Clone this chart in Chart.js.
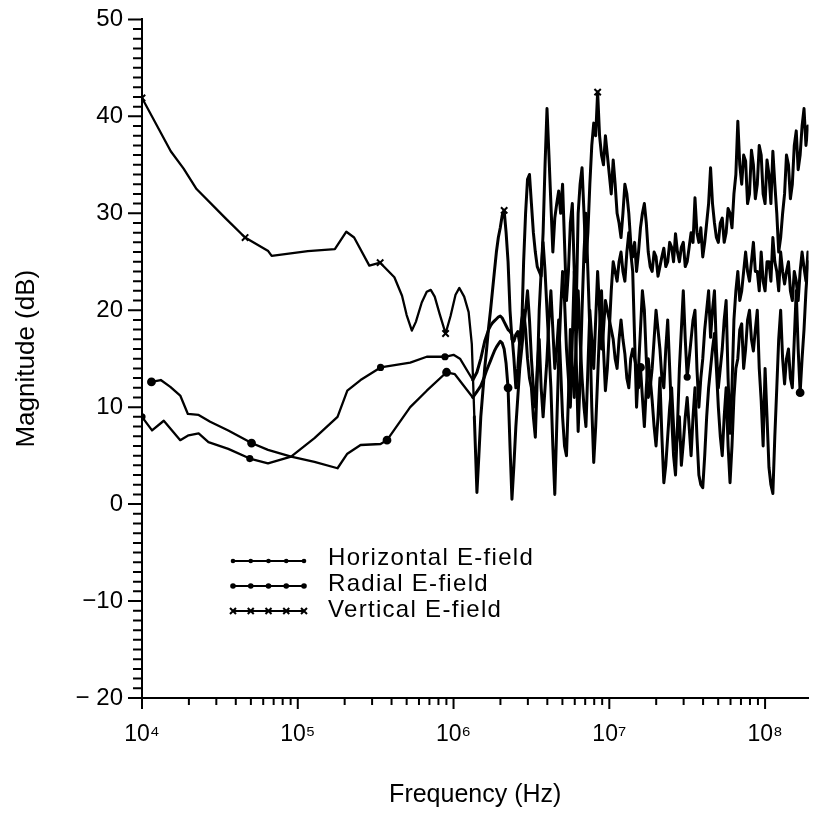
<!DOCTYPE html>
<html><head><meta charset="utf-8">
<script src="https://cdn.jsdelivr.net/npm/chart.js@4/dist/chart.umd.min.js"></script>
<style>html,body{margin:0;padding:0;background:#fff}</style>
</head><body>
<canvas id="c" width="815" height="813"></canvas>
<script>
const FONT = "'Liberation Sans', Arial, Helvetica, sans-serif";

const seriesNames = ['Horizontal E-field', 'Radial E-field', 'Vertical E-field'];
const yTickValues = [-20, -10, 0, 10, 20, 30, 40, 50];
const yTickLabels = ['\u2212 20', '\u221210', '0', '10', '20', '30', '40', '50'];
const xDecades = [1e4, 1e5, 1e6, 1e7, 1e8];
const xDecadeLabels = ['10\u2074', '10\u2075', '10\u2076', '10\u2077', '10\u2078'];

// ---- low-frequency (smooth) parts ----
const horizFreqLow = [1.00e4, 1.16e4, 1.38e4, 1.76e4, 1.99e4, 2.31e4, 2.67e4, 3.58e4, 4.92e4, 6.44e4, 9.06e4,
  1.28e5, 1.80e5, 2.08e5, 2.53e5, 3.40e5, 5.27e5, 6.73e5, 8.81e5, 1.00e6, 1.10e6, 1.33e6];
const horizDbLow = [9.0, 7.6, 8.6, 6.6, 7.1, 7.3, 6.4, 5.7, 4.7, 4.2, 4.9,
  6.8, 9.0, 11.7, 12.8, 14.1, 14.6, 15.2, 15.2, 15.4, 15.0, 12.8];

const radialFreqLow = [1.15e4, 1.32e4, 1.52e4, 1.76e4, 1.97e4, 2.31e4, 2.74e4, 3.58e4, 5.05e4, 6.44e4, 9.06e4,
  1.28e5, 1.80e5, 2.08e5, 2.53e5, 3.40e5, 3.74e5, 5.27e5, 6.73e5, 9.02e5, 1.02e6, 1.33e6];
const radialDbLow = [12.6, 12.8, 12.1, 11.2, 9.3, 9.2, 8.5, 7.6, 6.3, 5.6, 4.9,
  4.35, 3.7, 5.2, 6.1, 6.2, 6.6, 10.0, 11.7, 13.6, 13.4, 11.0];

const vertFreqLow = [1.00e4, 1.53e4, 1.85e4, 2.24e4, 3.43e4, 4.59e4, 6.46e4, 6.80e4, 1.16e5, 1.73e5, 2.05e5,
  2.30e5, 2.88e5, 3.38e5, 4.17e5, 4.67e5, 5.00e5, 5.40e5, 5.73e5, 6.25e5, 6.73e5, 7.14e5, 7.57e5, 8.15e5,
  8.89e5, 9.57e5, 1.03e6, 1.09e6, 1.17e6, 1.25e6, 1.31e6, 1.36e6];
const vertDbLow = [41.9, 36.4, 34.6, 32.5, 29.5, 27.5, 26.1, 25.6, 26.1, 26.3, 28.1,
  27.5, 24.6, 24.9, 23.4, 21.5, 19.5, 17.9, 18.8, 20.8, 21.9, 22.1, 21.4, 19.6,
  17.6, 19.4, 21.6, 22.3, 21.4, 19.8, 16.5, 9];

// ---- high-frequency (noisy) part: sample frequencies (Hz) and readings (dB) ----
const noisyFreq = [
  1.413e6, 1.454e6, 1.496e6, 1.540e6, 1.585e6, 1.631e6, 1.679e6, 1.728e6, 1.778e6, 1.830e6,
  1.884e6, 1.939e6, 1.995e6, 2.054e6, 2.113e6, 2.175e6, 2.239e6, 2.304e6, 2.371e6, 2.441e6,
  2.512e6, 2.585e6, 2.661e6, 2.738e6, 2.818e6, 2.901e6, 2.985e6, 3.073e6, 3.162e6, 3.255e6,
  3.350e6, 3.447e6, 3.548e6, 3.652e6, 3.758e6, 3.868e6, 3.981e6, 4.097e6, 4.217e6, 4.340e6,
  4.467e6, 4.597e6, 4.732e6, 4.870e6, 5.012e6, 5.158e6, 5.309e6, 5.464e6, 5.623e6, 5.788e6,
  5.957e6, 6.131e6, 6.310e6, 6.494e6, 6.683e6, 6.879e6, 7.079e6, 7.286e6, 7.499e6, 7.718e6,
  7.943e6, 8.175e6, 8.414e6, 8.660e6, 8.913e6, 9.173e6, 9.441e6, 9.716e6,
  1.000e7, 1.029e7, 1.059e7, 1.090e7, 1.122e7, 1.155e7, 1.189e7, 1.223e7, 1.259e7, 1.296e7,
  1.334e7, 1.372e7, 1.413e7, 1.454e7, 1.496e7, 1.540e7, 1.585e7, 1.631e7, 1.679e7, 1.728e7,
  1.778e7, 1.830e7, 1.884e7, 1.939e7, 1.995e7, 2.054e7, 2.113e7, 2.175e7, 2.239e7, 2.304e7,
  2.371e7, 2.441e7, 2.512e7, 2.585e7, 2.661e7, 2.738e7, 2.818e7, 2.901e7, 2.985e7, 3.073e7,
  3.162e7, 3.255e7, 3.350e7, 3.447e7, 3.548e7, 3.652e7, 3.758e7, 3.868e7, 3.981e7, 4.097e7,
  4.217e7, 4.340e7, 4.467e7, 4.597e7, 4.732e7, 4.870e7, 5.012e7, 5.158e7, 5.309e7, 5.464e7,
  5.623e7, 5.788e7, 5.957e7, 6.131e7, 6.310e7, 6.494e7, 6.683e7, 6.879e7, 7.079e7, 7.286e7,
  7.499e7, 7.718e7, 7.943e7, 8.175e7, 8.414e7, 8.660e7, 8.913e7, 9.173e7, 9.441e7, 9.716e7,
  1.000e8, 1.029e8, 1.059e8, 1.090e8, 1.122e8, 1.155e8, 1.189e8, 1.223e8, 1.259e8, 1.296e8,
  1.334e8, 1.372e8, 1.413e8, 1.454e8, 1.496e8, 1.540e8, 1.585e8, 1.631e8, 1.679e8, 1.728e8,
  1.778e8, 1.830e8, 1.884e8];

const horizDbHigh = [
  13.6, 14.3, 15, 15.9, 16.8, 17.4, 18, 18.4, 18.7, 18.9, 19.1, 19.3, 19.4, 19.2, 18.8, 18.4, 18, 17.8, 17.5, 15,
  12, 14, 17, 19, 20, 18, 15, 13, 12, 9, 6.9, 13, 20, 24, 27, 24, 20, 16, 12, 6,
  1.0, 8, 15, 20, 24, 21, 16, 13, 10, 17, 24, 15, 7.5, 13, 20, 26, 30, 24, 18, 10,
  4.3, 8, 13, 18, 22, 16, 11.7, 14, 18, 22, 25, 24, 23, 25, 26, 24, 23, 26, 28, 26,
  24, 17, 10, 14, 18, 22, 20, 15, 11, 12, 14, 17, 20, 18, 16, 13, 12, 16, 19, 14,
  9, 5, 3, 8, 14, 18, 22, 17, 13.1, 15, 17, 19, 20, 14, 10, 13, 15, 18, 20, 22,
  17.2, 20, 22, 16, 12, 14, 16, 19, 21, 13, 7.3, 12, 19, 22, 24, 21, 22, 24, 26, 24,
  23, 25, 27, 24, 24, 22, 26, 23, 22, 25, 25, 23, 27.5, 25, 24, 22, 26, 24, 22.7, 24,
  25, 22, 21, 24, 23, 21, 24, 26, 24.4, 23, 26];

const radialDbHigh = [
  11.6, 11.9, 12.2, 12.7, 13.2, 13.8, 14.3, 14.8, 15.3, 15.8, 16.2, 16.5, 16.8, 16.6, 16, 14.5, 12, 6, 0.5, 4,
  8, 11, 14, 16, 18, 20, 22, 19, 15, 12, 10, 14, 17, 12, 9, 12, 15, 19, 22, 18,
  14, 16, 19, 14, 9, 6, 5, 11, 18, 14, 11, 17, 22, 17, 13, 10, 8, 14, 20, 17,
  14, 19, 24, 20, 16, 18, 21, 20, 19, 18, 17, 15, 14, 17, 19, 17, 15.5, 13, 12, 15,
  16, 15, 14, 12, 14.1, 11, 8, 12, 15, 13, 10.7, 8, 6, 9, 13, 7, 2.2, 4, 7, 10,
  12, 8, 5.6, 7, 9, 4, 6.3, 9, 11, 8, 5, 9, 12, 7, 3, 2, 1.7, 5, 9, 12,
  14, 16, 17.6, 14, 10, 7, 5, 9, 12, 6, 2.2, 6, 11, 14, 15, 18, 18.6, 14, 16, 19,
  20, 17, 15.8, 18, 20, 14, 10.7, 6, 14, 9, 3.8, 2, 1.1, 7, 12, 17, 20, 15, 12.4, 15,
  16, 13, 12, 17, 22, 16, 11.5, 15, 18, 22, 25];

const vertDbHigh = [
  1.2, 5, 9, 11.5, 14, 16, 18.2, 20, 22, 24, 26, 27.5, 28.5, 29.8, 30.3, 28, 25, 20, 17, 16.8,
  17.5, 17.8, 16.5, 18, 25, 30, 33.5, 34, 31, 28, 26, 24.5, 24, 23.5, 28, 35, 40.8, 36, 31, 26,
  29.5, 31, 32.3, 30, 33, 27, 21, 24, 29, 31, 24, 20, 30, 33, 34.7, 30, 25, 28, 33, 37,
  39.3, 38, 42.5, 38, 36, 35, 38, 36, 34, 32, 35.5, 33, 30, 29, 27.5, 30, 33, 32, 30, 27,
  25.5, 27, 24, 26, 28.5, 30, 31, 29, 26, 24.5, 24, 26, 25.5, 23.5, 24.5, 25.5, 26.4, 24.5, 25, 27,
  26.5, 25, 27.9, 26, 25, 26.5, 27, 24.5, 25, 26.5, 28, 27, 31.6, 28, 27, 28.5, 25.5, 27, 29, 31,
  34.7, 31, 29, 27.5, 27, 29, 29.5, 27, 28, 30.5, 30, 28.5, 32, 34, 39.5, 35, 33, 36, 35.4, 31,
  32, 36.5, 35, 31.5, 33, 37, 36, 32, 31, 35.5, 34, 31, 36.4, 33, 30, 26, 27.5, 30, 32, 36,
  35, 31.5, 33, 37, 38.5, 34.5, 36, 39, 40.8, 37, 39];

// frequencies where the plotted curves carry a symbol
const horizMarkerFreq = [1.00e4, 4.92e4, 3.40e5, 8.81e5, 3.162e7];
const radialMarkerFreq = [1.15e4, 5.05e4, 3.74e5, 9.02e5, 2.239e6, 1.585e7, 1.679e8];
const vertMarkerFreq = [1.00e4, 4.59e4, 3.38e5, 8.89e5, 2.113e6, 8.414e6];

function buildSeries(fLow, dLow, dHigh) {
  const pts = fLow.map((f, i) => ({x: f, y: dLow[i]}));
  noisyFreq.forEach((f, i) => pts.push({x: f, y: dHigh[i]}));
  return pts;
}

const markerStyles = [
  {style: 'circle', radius: 2.6, set: new Set(horizMarkerFreq)},
  {style: 'circle', radius: 3.4, set: new Set(radialMarkerFreq)},
  {style: 'crossRot', radius: 4.5, set: new Set(vertMarkerFreq)}
];

function makeDataset(i, data, lowCount) {
  const m = markerStyles[i];
  return {
    label: seriesNames[i],
    data: data,
    borderColor: '#000',
    backgroundColor: '#000',
    borderWidth: 2.3,
    borderJoinStyle: 'round',
    borderCapStyle: 'round',
    tension: 0,
    segment: {
      borderWidth: c => (c.p0DataIndex >= lowCount - 1) ? 3 : 2.3
    },
    pointStyle: m.style,
    pointBorderWidth: 2,
    pointBorderColor: '#000',
    pointBackgroundColor: '#000',
    pointRadius: c => (c.raw && m.set.has(c.raw.x)) ? m.radius : 0,
    pointHoverRadius: 0,
    fill: false
  };
}

const datasets = [
  makeDataset(0, buildSeries(horizFreqLow, horizDbLow, horizDbHigh), horizFreqLow.length),
  makeDataset(1, buildSeries(radialFreqLow, radialDbLow, radialDbHigh), radialFreqLow.length),
  makeDataset(2, buildSeries(vertFreqLow, vertDbLow, vertDbHigh), vertFreqLow.length)
];

const whiteBg = {
  id: 'whiteBg',
  beforeDraw(chart) {
    const c = chart.ctx; c.save(); c.fillStyle = '#fff';
    c.fillRect(0, 0, chart.width, chart.height); c.restore();
  }
};

const axisTicks = {
  id: 'axisTicks',
  afterDraw(chart) {
    const {ctx, chartArea, scales} = chart;
    const x = scales.x, y = scales.y;
    ctx.save();
    ctx.strokeStyle = '#000';
    ctx.lineWidth = 2;
    ctx.beginPath();
    for (let v = y.min; v <= y.max; v++) {
      const py = y.getPixelForValue(v);
      const len = (v % 10 === 0) ? 14 : 9;
      ctx.moveTo(chartArea.left - len, py);
      ctx.lineTo(chartArea.left, py);
    }
    for (let e = 4; e <= 8; e++) {
      for (let m = 1; m <= 9; m++) {
        const v = m * Math.pow(10, e);
        if (v > x.max) break;
        const px = x.getPixelForValue(v);
        const len = (m === 1) ? 11 : 7;
        ctx.moveTo(px, chartArea.bottom);
        ctx.lineTo(px, chartArea.bottom + len);
      }
    }
    ctx.stroke();
    ctx.restore();
  }
};

const legendBox = {
  id: 'legendBox',
  afterDraw(chart) {
    const ctx = chart.ctx;
    const rows = [561, 586, 611];
    const baselines = [565, 591, 617];
    chart.data.datasets.forEach((ds, i) => {
      const yy = rows[i];
      const x0 = 233, x1 = 304;
      ctx.save();
      ctx.strokeStyle = '#000'; ctx.fillStyle = '#000'; ctx.lineWidth = 2;
      ctx.beginPath(); ctx.moveTo(x0, yy); ctx.lineTo(x1, yy); ctx.stroke();
      const m = markerStyles[i];
      for (let j = 0; j < 5; j++) {
        const px = x0 + j * (x1 - x0) / 4;
        if (m.style === 'circle') {
          ctx.beginPath(); ctx.arc(px, yy, i === 0 ? 2.3 : 2.8, 0, Math.PI * 2); ctx.fill();
        } else {
          const r = 3;
          ctx.beginPath();
          ctx.moveTo(px - r, yy - r); ctx.lineTo(px + r, yy + r);
          ctx.moveTo(px - r, yy + r); ctx.lineTo(px + r, yy - r);
          ctx.stroke();
        }
      }
      ctx.font = '24px ' + FONT;
      if ('letterSpacing' in ctx) ctx.letterSpacing = '1.3px';
      ctx.textBaseline = 'alphabetic';
      ctx.textAlign = 'left';
      ctx.fillText(ds.label, 328, baselines[i]);
      ctx.restore();
    });
  }
};

new Chart(document.getElementById('c'), {
  type: 'line',
  data: {datasets: datasets},
  options: {
    responsive: false,
    animation: false,
    devicePixelRatio: 1,
    events: [],
    layout: {padding: {top: 18, right: 0, bottom: 0, left: 0}},
    plugins: {legend: {display: false}, tooltip: {enabled: false}},
    scales: {
      x: {
        type: 'logarithmic',
        position: 'bottom',
        min: 1e4,
        max: 1.9e8,
        grid: {display: false, drawTicks: true, tickLength: 11},
        border: {display: true, color: '#000', width: 2},
        afterBuildTicks: s => { s.ticks = xDecades.map(v => ({value: v, major: true})); },
        afterFit: s => { s.height = 115; },
        ticks: {
          autoSkip: false, maxRotation: 0, minRotation: 0, padding: 12,
          color: '#000', font: {family: FONT, size: 23},
          callback: (v, i) => xDecadeLabels[i]
        },
        title: {display: true, text: 'Frequency (Hz)', color: '#000',
          font: {family: FONT, size: 25}, padding: {top: 0, bottom: 3}}
      },
      y: {
        type: 'linear',
        position: 'left',
        min: -20,
        max: 50,
        grid: {display: false, drawTicks: true, tickLength: 14},
        border: {display: true, color: '#000', width: 2},
        afterBuildTicks: s => { s.ticks = yTickValues.map(v => ({value: v})); },
        afterFit: s => { s.width = 142; },
        ticks: {
          autoSkip: false, padding: 5, color: '#000',
          font: {family: FONT, size: 24},
          callback: (v, i) => yTickLabels[i]
        },
        title: {display: true, text: 'Magnitude (dB)', color: '#000',
          font: {family: FONT, size: 26}, padding: {top: 11, bottom: 0}}
      }
    }
  },
  plugins: [whiteBg, axisTicks, legendBox]
});
</script>
</body></html>
